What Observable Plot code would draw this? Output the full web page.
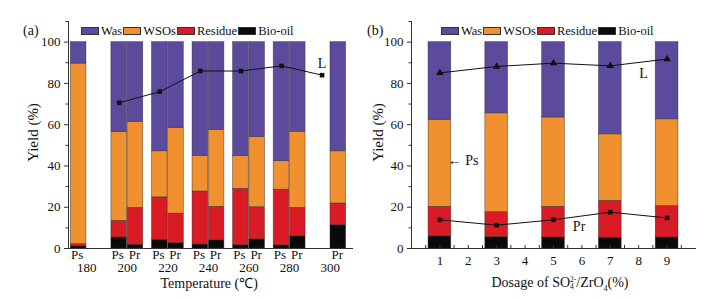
<!DOCTYPE html>
<html><head><meta charset="utf-8">
<script src="https://cdn.jsdelivr.net/npm/d3@7"></script>
<script src="https://cdn.jsdelivr.net/npm/@observablehq/plot@0.6"></script>
<style>
body{margin:0;background:#fff;}
#wrap{position:relative;width:723px;height:299px;overflow:hidden;font-family:"Liberation Serif","Times New Roman",serif;color:#111;}
.abs{position:absolute;white-space:nowrap;line-height:1;}
.plot{position:absolute;top:0;}
.legend{position:absolute;top:27px;display:flex;align-items:center;font-size:12.5px;}
.legend .sw{width:18px;height:8px;margin-right:2px;box-sizing:border-box;border:0.5px solid #333;}
.legend .lb{margin-right:1px;}
.ss{display:inline-block;vertical-align:middle;line-height:1;font-size:7.5px;text-align:left;}
</style></head><body><div id="wrap"></div>
<script>
// ---------- data ----------
const components = ["Was", "WSOs", "Residue", "Bio-oil"];
const colors = ["#5c4b9c", "#f0902f", "#d81b24", "#0a0a0a"];

// Panel (a): Ps bars and Pr bars by temperature
const psTemps = [180, 200, 220, 240, 260, 280];
const psBio     = [1.0, 5.3, 4.2, 1.9, 1.6, 1.5];
const psResidue = [1.1, 8.1, 20.6, 25.7, 27.3, 27.0];
const psWSOs    = [87.5, 43.0, 22.3, 17.2, 15.9, 13.8];
const psWas     = [10.4, 43.6, 52.9, 55.2, 55.2, 57.7];

const prTemps = [200, 220, 240, 260, 280, 300];
const prBio     = [1.8, 2.6, 3.9, 4.4, 5.8, 11.3];
const prResidue = [17.9, 14.3, 16.3, 15.6, 13.9, 10.5];
const prWSOs    = [41.7, 41.5, 37.2, 34.0, 36.9, 25.3];
const prWas     = [38.6, 41.6, 42.6, 46.0, 43.4, 52.9];

const lTempsA = [200, 220, 240, 260, 280, 300];
const lValuesA = [70.6, 76.0, 86.0, 86.0, 88.5, 84.0];

const tempTicks = [180, 200, 220, 240, 260, 280, 300];

// Panel (b): dosage of SO4(2-)/ZrO4
const dosage = [1, 3, 5, 7, 9];
const bBio     = [5.8, 5.5, 5.3, 5.2, 5.3];
const bResidue = [14.4, 12.1, 14.9, 17.9, 15.3];
const bWSOs    = [42.1, 47.9, 43.3, 32.2, 42.0];
const bWas     = [37.7, 34.5, 36.5, 44.7, 37.4];
const lValuesB  = [85.1, 88.2, 89.8, 88.5, 91.8];
const prValuesB = [13.9, 11.3, 13.9, 17.6, 14.8];
const dosageTicks = [1, 2, 3, 4, 5, 6, 7, 8, 9];

// ---------- helpers ----------
const colorScale = {domain: components, range: colors};
function stackRows(xs, x1f, x2f, bio, res, wso, was) {
  const rows = [];
  xs.forEach((x, i) => {
    let base = 0;
    [["Bio-oil", bio[i]], ["Residue", res[i]], ["WSOs", wso[i]], ["Was", was[i]]].forEach(([c, v]) => {
      rows.push({x1: x1f(x), x2: x2f(x), y1: base, y2: base + v, c});
      base += v;
    });
  });
  return rows;
}
const barStyle = {stroke: "#2a2a2a", strokeWidth: 0.6, strokeOpacity: 0.7};
const common = {
  height: 299, marginTop: 21, marginBottom: 51,
  y: {domain: [0, 110]},
  color: colorScale,
  style: {fontFamily: "Liberation Serif, Times New Roman, serif", fontSize: "13px", color: "#111", background: "transparent", overflow: "visible"}
};
const yAxes = [
  Plot.axisY({ticks: [0, 20, 40, 60, 80, 100], tickSize: 4, tickPadding: 4, label: null, stroke: "#333"}),
  Plot.axisY({ticks: [10, 30, 50, 70, 90, 110], tickSize: 2.5, tickFormat: () => "", label: null, stroke: "#333"}),
];

// ---------- panel (a) ----------
const barsA = [
  ...stackRows(psTemps, t => t - 8, t => t, psBio, psResidue, psWSOs, psWas),
  ...stackRows(prTemps, t => t, t => t + 8, prBio, prResidue, prWSOs, prWas)
];
const lineA = lTempsA.map((t, i) => ({x: t - 4, y: lValuesA[i]}));

const plotA = Plot.plot({
  ...common,
  width: 361, marginLeft: 68, marginRight: 9,
  x: {domain: [171, 311], axis: null},
  marks: [
    Plot.rect(barsA, {x1: "x1", x2: "x2", y1: "y1", y2: "y2", fill: "c", insetLeft: 0.3, insetRight: 0.3, ...barStyle}),
    Plot.line(lineA, {x: "x", y: "y", stroke: "#111", strokeWidth: 1}),
    Plot.dot(lineA, {x: "x", y: "y", symbol: "square", r: 2.6, fill: "#111"}),
    Plot.text([{x: lTempsA[lTempsA.length - 1] - 4, y: 89.4, t: "L"}], {x: "x", y: "y", text: "t", fontSize: 14}),
    ...yAxes,
    Plot.frame({anchor: "left", stroke: "#333"}),
    Plot.frame({anchor: "bottom", stroke: "#333"}),
    Plot.text(psTemps, {x: t => t - 4, text: () => "Ps", frameAnchor: "bottom", dy: 10, dx: -1.5}),
    Plot.text(prTemps, {x: t => t + 4, text: () => "Pr", frameAnchor: "bottom", dy: 10, dx: -1}),
    Plot.text(tempTicks, {x: t => t, text: t => String(t), frameAnchor: "bottom", dy: 23})
  ]
});

// ---------- panel (b) ----------
const barsB = stackRows(dosage, d => d - 0.4, d => d + 0.4, bBio, bResidue, bWSOs, bWas);
const lineB = dosage.map((d, i) => ({x: d, y: lValuesB[i]}));
const lineBPr = dosage.map((d, i) => ({x: d, y: prValuesB[i]}));

const plotB = Plot.plot({
  ...common,
  width: 362, marginLeft: 50, marginRight: 28,
  x: {domain: [0, 10]},
  marks: [
    Plot.rect(barsB, {x1: "x1", x2: "x2", y1: "y1", y2: "y2", fill: "c", ...barStyle}),
    Plot.line(lineB, {x: "x", y: "y", stroke: "#111", strokeWidth: 1}),
    Plot.dot(lineB, {x: "x", y: "y", symbol: "triangle", r: 2.8, fill: "#111"}),
    Plot.line(lineBPr, {x: "x", y: "y", stroke: "#111", strokeWidth: 1}),
    Plot.dot(lineBPr, {x: "x", y: "y", symbol: "square", r: 2.6, fill: "#111"}),
    Plot.text([{x: 8.17, y: 84.8, t: "L"}, {x: 5.9, y: 10.6, t: "Pr"}, {x: 1.82, y: 42.6, t: "\u2190 Ps"}], {x: "x", y: "y", text: "t", fontSize: 14}),
    ...yAxes,
    Plot.axisX({ticks: d3.range(0.5, 10, 0.5), tickSize: -3, tickFormat: () => "", label: null, stroke: "#333"}),
    Plot.axisX({ticks: dosageTicks, tickSize: 0, tickPadding: 7, label: null}),
    Plot.frame({anchor: "left", stroke: "#333"}),
    Plot.frame({anchor: "bottom", stroke: "#333"})
  ]
});

// ---------- assemble ----------
const wrap = document.getElementById("wrap");
plotA.classList.add("plot"); plotA.style.left = "0px";
plotB.classList.add("plot"); plotB.style.left = "361px";
wrap.appendChild(plotA); wrap.appendChild(plotB);

function addText(html, left, top, extra) {
  const d = document.createElement("div");
  d.className = "abs";
  d.innerHTML = html;
  d.style.left = left + "px"; d.style.top = top + "px";
  if (extra) Object.assign(d.style, extra);
  wrap.appendChild(d);
  return d;
}
function addLegend(left) {
  const lg = document.createElement("div");
  lg.className = "legend";
  lg.style.left = left + "px";
  components.forEach((c, i) => {
    const sw = document.createElement("div");
    sw.className = "sw"; sw.style.background = colors[i];
    const lb = document.createElement("span");
    lb.className = "lb"; lb.textContent = c;
    lg.appendChild(sw); lg.appendChild(lb);
  });
  wrap.appendChild(lg);
  lg.style.top = (31 - lg.offsetHeight / 2) + "px";
}
addLegend(81);
addLegend(441);

addText("(a)", 23, 24, {fontSize: "14px"});
addText("(b)", 367, 24, {fontSize: "14px"});

// Y titles (rotated)
function yTitle(cx, cy) {
  const d = addText("Yield (%)", 0, 0, {fontSize: "15px"});
  const w = d.offsetWidth, h = d.offsetHeight;
  d.style.left = (cx - w / 2) + "px"; d.style.top = (cy - h / 2) + "px";
  d.style.transform = "rotate(-90deg)";
}
yTitle(33, 132);
yTitle(378, 132);

// X titles
function xTitle(html, cx, cy) {
  const d = addText(html, 0, 0, {fontSize: "14px"});
  d.style.left = (cx - d.offsetWidth / 2) + "px";
  d.style.top = (cy - d.offsetHeight / 2) + "px";
}
xTitle("Temperature (\u2103)", 209, 284);
xTitle('Dosage of SO<span class="ss">2-<br>4</span>/ZrO<sub style="font-size:8px">4</sub>(%)', 560, 284);
</script></body></html>
